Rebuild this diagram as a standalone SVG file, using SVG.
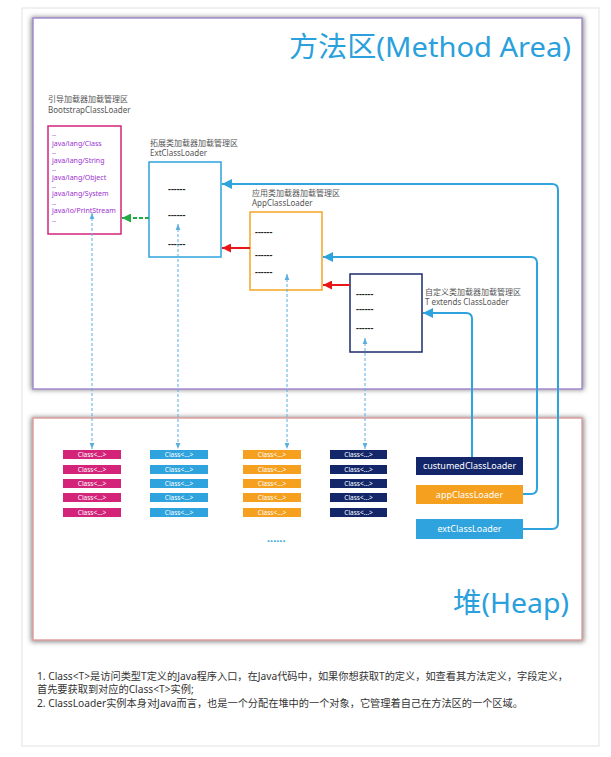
<svg xmlns="http://www.w3.org/2000/svg" width="611" height="757" viewBox="0 0 611 757">
<style>
text{font-family:"Noto Sans","Noto Sans CJK SC",sans-serif}
.lbl{font-size:8px;fill:#555}
.dash{font-size:9px;fill:#222;font-weight:bold}
.bs{font-size:7px;fill:#9b30d0}
.cls{font-size:6.5px;fill:#fff;text-anchor:middle}
.ldr{font-size:9px;fill:#fff;text-anchor:middle}
.title{font-size:28px;fill:#2aa0dc;text-anchor:end}
.note{font-size:10.2px;fill:#333}
.vd{stroke:#5aaee0;stroke-width:1;stroke-dasharray:3,2;fill:none}
.bl{stroke:#2ea3dd;stroke-width:2;fill:none}
</style>
<defs>
<filter id="sh" x="-5%" y="-5%" width="110%" height="110%"><feGaussianBlur stdDeviation="2.5"/></filter>
<marker id="ab" viewBox="0 0 10 10" refX="10" refY="5" markerWidth="5" markerHeight="5" orient="auto-start-reverse" markerUnits="strokeWidth"><path d="M0,0 L10,5 L0,10 z" fill="#2ea3dd"/></marker>
<marker id="ar" viewBox="0 0 10 10" refX="10" refY="5" markerWidth="4.5" markerHeight="4.5" orient="auto" markerUnits="strokeWidth"><path d="M0,0 L10,5 L0,10 z" fill="#e81616"/></marker>
<marker id="ag" viewBox="0 0 10 10" refX="10" refY="5" markerWidth="4.5" markerHeight="4.5" orient="auto" markerUnits="strokeWidth"><path d="M0,0 L10,5 L0,10 z" fill="#22aa44"/></marker>
<marker id="av" viewBox="0 0 10 10" refX="10" refY="5" markerWidth="6" markerHeight="6" orient="auto-start-reverse" markerUnits="strokeWidth"><path d="M0,1 L10,5 L0,9 z" fill="#5aaee0"/></marker>
</defs>
<rect width="611" height="757" fill="#fff"/>
<rect x="22" y="8" width="577" height="738" fill="none" stroke="#e2e2e2" stroke-width="1"/>

<g id="method-area">
<rect x="31" y="17" width="553" height="373" fill="#888" filter="url(#sh)"/>
<rect x="33" y="18" width="549" height="371" fill="#fff" stroke="#a58cd0" stroke-width="1.5"/>
<text class="title" x="571" y="57" textLength="282" lengthAdjust="spacingAndGlyphs">方法区(Method Area)</text>
</g>

<g id="heap">
<rect x="31" y="417" width="553" height="225" fill="#888" filter="url(#sh)"/>
<rect x="33" y="418" width="549" height="222" fill="#fff" stroke="#e0a0a0" stroke-width="1.5"/>
<text class="title" x="569" y="613" textLength="116" lengthAdjust="spacingAndGlyphs">堆(Heap)</text>
</g>

<g id="bootstrap">
<text class="lbl" x="48" y="102">引导加载器加载管理区</text>
<text class="lbl" x="48" y="113">BootstrapClassLoader</text>
<rect x="48" y="126" width="73" height="108" fill="#fff" stroke="#d4247a" stroke-width="1.5"/>
<text class="bs" x="52" y="136">..</text>
<text class="bs" x="52" y="146">java/lang/Class</text>
<text class="bs" x="52" y="154">..</text>
<text class="bs" x="52" y="163">java/lang/String</text>
<text class="bs" x="52" y="171">..</text>
<text class="bs" x="52" y="180">java/lang/Object</text>
<text class="bs" x="52" y="188">..</text>
<text class="bs" x="52" y="196">java/lang/System</text>
<text class="bs" x="52" y="205">..</text>
<text class="bs" x="52" y="213">java/io/PrintStream</text>
<text class="bs" x="52" y="222">..</text>
</g>

<g id="ext">
<text class="lbl" x="150" y="146">拓展类加载器加载管理区</text>
<text class="lbl" x="150" y="156">ExtClassLoader</text>
<rect x="149" y="162" width="72" height="95" fill="#fff" stroke="#2ea3dd" stroke-width="1.5"/>
<text class="dash" x="168" y="192">------</text>
<text class="dash" x="168" y="218">------</text>
<text class="dash" x="168" y="247">------</text>
</g>

<g id="app">
<text class="lbl" x="252" y="196">应用类加载器加载管理区</text>
<text class="lbl" x="252" y="206">AppClassLoader</text>
<rect x="250" y="212" width="72" height="78" fill="#fff" stroke="#f5a623" stroke-width="1.5"/>
<text class="dash" x="255" y="235">------</text>
<text class="dash" x="255" y="258">------</text>
<text class="dash" x="255" y="275">------</text>
</g>

<g id="custom">
<rect x="350" y="274" width="72" height="78" fill="#fff" stroke="#1c2b6b" stroke-width="1.5"/>
<text class="dash" x="356" y="297">------</text>
<text class="dash" x="356" y="312">------</text>
<text class="dash" x="356" y="331">------</text>
<text class="lbl" x="425" y="295">自定义类加载器加载管理区</text>
<text class="lbl" x="425" y="305">T extends ClassLoader</text>
</g>

<g id="boot-classes" fill="#d4247a">
<rect x="63" y="450" width="58" height="9"/><rect x="63" y="465" width="58" height="9"/><rect x="63" y="479" width="58" height="9"/><rect x="63" y="493" width="58" height="9"/><rect x="63" y="508" width="58" height="9"/>
<text class="cls" x="92" y="457">Class&lt;...&gt;</text><text class="cls" x="92" y="472">Class&lt;...&gt;</text><text class="cls" x="92" y="486">Class&lt;...&gt;</text><text class="cls" x="92" y="500">Class&lt;...&gt;</text><text class="cls" x="92" y="515">Class&lt;...&gt;</text>
</g>
<g id="ext-classes" fill="#2ea3dd">
<rect x="150" y="450" width="58" height="9"/><rect x="150" y="465" width="58" height="9"/><rect x="150" y="479" width="58" height="9"/><rect x="150" y="493" width="58" height="9"/><rect x="150" y="508" width="58" height="9"/>
<text class="cls" x="179" y="457">Class&lt;...&gt;</text><text class="cls" x="179" y="472">Class&lt;...&gt;</text><text class="cls" x="179" y="486">Class&lt;...&gt;</text><text class="cls" x="179" y="500">Class&lt;...&gt;</text><text class="cls" x="179" y="515">Class&lt;...&gt;</text>
</g>
<g id="app-classes" fill="#f5a01e">
<rect x="243" y="450" width="58" height="9"/><rect x="243" y="465" width="58" height="9"/><rect x="243" y="479" width="58" height="9"/><rect x="243" y="493" width="58" height="9"/><rect x="243" y="508" width="58" height="9"/>
<text class="cls" x="272" y="457">Class&lt;...&gt;</text><text class="cls" x="272" y="472">Class&lt;...&gt;</text><text class="cls" x="272" y="486">Class&lt;...&gt;</text><text class="cls" x="272" y="500">Class&lt;...&gt;</text><text class="cls" x="272" y="515">Class&lt;...&gt;</text>
</g>
<g id="custom-classes" fill="#13266a">
<rect x="330" y="450" width="57" height="9"/><rect x="330" y="465" width="57" height="9"/><rect x="330" y="479" width="57" height="9"/><rect x="330" y="493" width="57" height="9"/><rect x="330" y="508" width="57" height="9"/>
<text class="cls" x="358.5" y="457">Class&lt;...&gt;</text><text class="cls" x="358.5" y="472">Class&lt;...&gt;</text><text class="cls" x="358.5" y="486">Class&lt;...&gt;</text><text class="cls" x="358.5" y="500">Class&lt;...&gt;</text><text class="cls" x="358.5" y="515">Class&lt;...&gt;</text>
</g>
<g id="more">
<text x="267" y="542" style="font-size:11px;fill:#2ea3dd;font-weight:bold">......</text>
</g>

<g id="custumedClassLoader">
<rect x="416" y="457" width="107" height="18" fill="#13266a"/>
<text class="ldr" x="469.5" y="469">custumedClassLoader</text>
</g>
<g id="appClassLoader">
<rect x="416" y="485" width="107" height="19" fill="#f5a01e"/>
<text class="ldr" x="469.5" y="497.5">appClassLoader</text>
</g>
<g id="extClassLoader">
<rect x="416" y="519" width="107" height="20" fill="#2ea3dd"/>
<text class="ldr" x="469.5" y="532">extClassLoader</text>
</g>

<g id="connectors">
<path class="bl" d="M523,529 H552 Q558,529 558,523 V190 Q558,184 552,184 H222" marker-end="url(#ab)"/>
<path class="bl" d="M523,494 H531 Q537,494 537,488 V263 Q537,257 531,257 H323" marker-end="url(#ab)"/>
<path class="bl" d="M472,457 V319 Q472,313 466,313 H423" marker-end="url(#ab)"/>
<path d="M250,248 H222" stroke="#e81616" stroke-width="2" fill="none" marker-end="url(#ar)"/>
<path d="M350,285 H323" stroke="#e81616" stroke-width="2" fill="none" marker-end="url(#ar)"/>
<path d="M149,218 H122" stroke="#22aa44" stroke-width="2" stroke-dasharray="4,2" fill="none" marker-end="url(#ag)"/>
<path class="vd" d="M92,213 V449" marker-start="url(#av)" marker-end="url(#av)"/>
<path class="vd" d="M178,224 V449" marker-start="url(#av)" marker-end="url(#av)"/>
<path class="vd" d="M287,274 V449" marker-start="url(#av)" marker-end="url(#av)"/>
<path class="vd" d="M365,338 V449" marker-start="url(#av)" marker-end="url(#av)"/>
</g>

<g id="notes">
<text class="note" x="37" y="680">1. Class&lt;T&gt;是访问类型T定义的Java程序入口，在Java代码中，如果你想获取T的定义，如查看其方法定义，字段定义，</text>
<text class="note" x="37" y="693">首先要获取到对应的Class&lt;T&gt;实例;</text>
<text class="note" x="37" y="707">2. ClassLoader实例本身对Java而言，也是一个分配在堆中的一个对象，它管理着自己在方法区的一个区域。</text>
</g>
</svg>
